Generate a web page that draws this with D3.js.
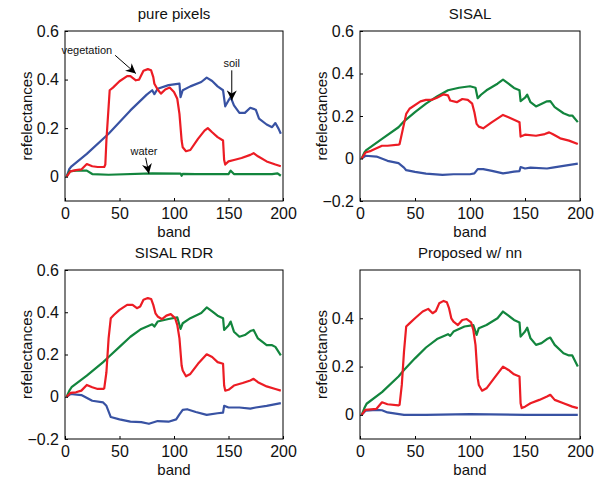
<!DOCTYPE html>
<html><head><meta charset="utf-8">
<script src="https://cdn.jsdelivr.net/npm/d3@7/dist/d3.min.js"></script>
<style>
html,body{margin:0;padding:0;background:#fff;}
svg{display:block;font-family:"Liberation Sans",Arial,Helvetica,sans-serif;}
</style></head>
<body>
<svg id="chart" width="594" height="478"></svg>
<script>
// ---------- data (band, reflectance) ----------
const titles = ["pure pixels", "SISAL", "SISAL RDR", "Proposed w/ nn"];
const xTicks = [0, 50, 100, 150, 200];
const yTicksA = [0, 0.2, 0.4, 0.6];
const yTicksB = [-0.2, 0, 0.2, 0.4, 0.6];
const yTicksC = [0, 0.2, 0.4];

// panel 1: pure pixels
const pureVeg = [[1.5,0],[5,0.022],[10,0.027],[15,0.03],[20,0.052],[25,0.043],[30,0.04],[36,0.04],[37,0.05],[38,0.15],[41,0.356],[44,0.367],[50,0.393],[57,0.414],[60,0.414],[65,0.397],[68,0.40],[72,0.436],[76,0.443],[79,0.438],[81,0.41],[82,0.383],[85,0.359],[88,0.342],[92,0.359],[96,0.367],[100,0.349],[103,0.321],[105,0.259],[107,0.149],[108,0.121],[111,0.105],[115,0.11],[122,0.156],[128,0.19],[131,0.2],[135,0.183],[140,0.163],[145,0.149],[146,0.069],[147,0.05],[150,0.063],[155,0.069],[162,0.077],[170,0.09],[173,0.097],[177,0.084],[185,0.063],[193,0.05],[198,0.043]];
const pureSoil = [[1.5,0],[4,0.032],[6,0.043],[20,0.094],[40,0.177],[60,0.273],[75,0.338],[80,0.356],[82,0.34],[85,0.362],[95,0.377],[105,0.383],[106,0.328],[108,0.356],[115,0.372],[125,0.39],[130,0.408],[135,0.394],[140,0.372],[145,0.356],[147,0.29],[150,0.314],[152,0.328],[155,0.294],[160,0.263],[165,0.263],[170,0.284],[175,0.276],[178,0.239],[185,0.215],[190,0.204],[193,0.221],[196,0.197],[198,0.177]];
const pureWater = [[1.5,0],[4,0.022],[10,0.025],[20,0.025],[25,0.011],[40,0.008],[80,0.014],[106,0.013],[107,0.004],[108,0.012],[120,0.011],[150,0.011],[152,0.025],[155,0.011],[190,0.011],[195,0.014],[198,0.004]];

// panel 2: SISAL
const sisalRed = [[1.5,0],[5,0.028],[10,0.036],[20,0.06],[25,0.06],[35,0.065],[36,0.068],[40,0.163],[42,0.21],[45,0.234],[55,0.269],[60,0.276],[65,0.276],[70,0.286],[76,0.302],[80,0.297],[82,0.273],[88,0.265],[93,0.28],[98,0.276],[102,0.258],[104,0.218],[106,0.163],[108,0.15],[112,0.142],[120,0.171],[130,0.205],[135,0.194],[145,0.171],[146,0.103],[150,0.112],[160,0.107],[168,0.115],[172,0.123],[175,0.115],[182,0.095],[190,0.084],[198,0.068]];
const sisalGreen = [[1.5,0],[4,0.028],[6,0.041],[20,0.092],[35,0.147],[40,0.175],[50,0.218],[60,0.258],[70,0.292],[80,0.321],[90,0.333],[100,0.34],[105,0.333],[107,0.284],[110,0.3],[115,0.321],[125,0.352],[130,0.371],[135,0.352],[140,0.332],[145,0.321],[146,0.27],[150,0.286],[152,0.3],[155,0.265],[160,0.245],[170,0.269],[173,0.27],[177,0.242],[185,0.213],[190,0.202],[193,0.202],[198,0.171]];
const sisalBlue = [[1.5,0],[5,0.013],[15,0.009],[25,-0.011],[35,-0.022],[40,-0.043],[42,-0.055],[50,-0.063],[60,-0.071],[75,-0.077],[85,-0.074],[100,-0.074],[104,-0.07],[107,-0.05],[112,-0.05],[120,-0.058],[130,-0.07],[140,-0.062],[145,-0.059],[146,-0.04],[150,-0.047],[155,-0.043],[170,-0.047],[175,-0.043],[185,-0.035],[198,-0.024]];

// panel 3: SISAL RDR
const rdrRed = [[1.5,0],[5,0.018],[10,0.021],[15,0.029],[20,0.056],[25,0.045],[30,0.037],[35,0.037],[36,0.04],[38,0.116],[40,0.276],[42,0.372],[45,0.388],[50,0.411],[57,0.435],[62,0.435],[66,0.419],[69,0.427],[72,0.459],[76,0.467],[79,0.463],[81,0.435],[83,0.395],[85,0.38],[89,0.367],[93,0.384],[97,0.391],[101,0.372],[103,0.34],[105,0.276],[107,0.148],[108,0.124],[111,0.097],[115,0.108],[122,0.156],[130,0.201],[135,0.188],[140,0.164],[145,0.156],[146,0.053],[147,0.029],[150,0.033],[155,0.053],[163,0.065],[170,0.077],[173,0.085],[177,0.069],[185,0.049],[193,0.037],[198,0.029]];
const rdrGreen = [[1.5,0],[4,0.029],[6,0.045],[20,0.1],[35,0.164],[40,0.188],[50,0.236],[60,0.284],[70,0.321],[80,0.343],[82,0.332],[85,0.356],[95,0.368],[103,0.376],[106,0.321],[108,0.348],[115,0.372],[125,0.396],[130,0.423],[135,0.404],[140,0.384],[145,0.372],[146,0.316],[150,0.337],[152,0.356],[155,0.308],[160,0.284],[165,0.292],[170,0.311],[173,0.316],[177,0.276],[185,0.244],[190,0.244],[193,0.236],[198,0.196]];
const rdrBlue = [[1.5,0],[5,0.013],[15,0.008],[25,-0.019],[35,-0.027],[38,-0.043],[42,-0.096],[50,-0.107],[60,-0.118],[70,-0.12],[77,-0.128],[85,-0.115],[95,-0.118],[102,-0.107],[105,-0.083],[108,-0.062],[112,-0.059],[120,-0.072],[130,-0.086],[140,-0.078],[145,-0.075],[146,-0.043],[150,-0.051],[160,-0.051],[170,-0.056],[175,-0.051],[185,-0.043],[198,-0.03]];

// panel 4: Proposed w/ nn
const nnRed = [[1.5,0],[5,0.021],[15,0.025],[20,0.052],[25,0.044],[35,0.039],[36,0.042],[38,0.124],[40,0.262],[42,0.366],[45,0.379],[50,0.4],[57,0.428],[62,0.439],[66,0.421],[69,0.43],[72,0.462],[76,0.472],[79,0.466],[81,0.441],[83,0.4],[85,0.386],[89,0.372],[93,0.393],[97,0.397],[101,0.383],[103,0.352],[105,0.29],[107,0.152],[108,0.124],[111,0.1],[115,0.11],[122,0.152],[130,0.2],[135,0.186],[140,0.168],[145,0.159],[146,0.048],[147,0.028],[150,0.034],[155,0.048],[163,0.062],[170,0.076],[173,0.083],[177,0.062],[185,0.048],[193,0.034],[198,0.028]];
const nnGreen = [[1.5,0],[4,0.028],[6,0.046],[20,0.094],[35,0.159],[40,0.186],[50,0.234],[60,0.279],[70,0.314],[80,0.334],[82,0.327],[85,0.345],[95,0.366],[103,0.372],[106,0.331],[108,0.359],[115,0.372],[125,0.4],[130,0.428],[135,0.411],[140,0.393],[145,0.383],[146,0.324],[150,0.345],[152,0.361],[155,0.317],[160,0.29],[165,0.297],[170,0.314],[173,0.32],[177,0.29],[185,0.255],[190,0.246],[193,0.246],[198,0.2]];
const nnBlue = [[1.5,0],[5,0.017],[15,0.021],[20,0.019],[25,0.01],[40,0.0],[60,0.0],[100,0.003],[150,0.0],[198,0.0]];

// annotations in panel 1 (band, value): label position and arrow start/end
const annoLabels = ["vegetation", "soil", "water"];
const annoText = [[20, 0.52], [153, 0.467], [72.5, 0.107]];
const annoFrom = [[46, 0.50], [153, 0.438], [74, 0.078]];
const annoTo = [[65, 0.425], [153, 0.314], [77, 0.012]];

// ---------- layout ----------
const RED = "#ec1c24", GREEN = "#12853d", BLUE = "#3852a3";
const panels = [
  {title: titles[0], x0: 65, x1: 283, y0: 31, y1: 201, dom: [-0.1, 0.6], ticks: yTicksA, series: [[pureSoil, BLUE], [pureWater, GREEN], [pureVeg, RED]], anno: true},
  {title: titles[1], x0: 360, x1: 580, y0: 31, y1: 201, dom: [-0.2, 0.6], ticks: yTicksB, series: [[sisalBlue, BLUE], [sisalGreen, GREEN], [sisalRed, RED]]},
  {title: titles[2], x0: 65, x1: 283, y0: 270, y1: 439, dom: [-0.2, 0.6], ticks: yTicksB, series: [[rdrBlue, BLUE], [rdrGreen, GREEN], [rdrRed, RED]]},
  {title: titles[3], x0: 360, x1: 580, y0: 270, y1: 439, dom: [-0.1, 0.6], ticks: yTicksC, series: [[nnBlue, BLUE], [nnGreen, GREEN], [nnRed, RED]]}
];

const svg = d3.select("#chart");
const defs = svg.append("defs");
defs.append("marker").attr("id", "ah").attr("viewBox", "0 0 10 10")
  .attr("refX", 10).attr("refY", 5).attr("markerWidth", 10).attr("markerHeight", 10)
  .attr("markerUnits", "userSpaceOnUse").attr("orient", "auto")
  .append("path").attr("d", "M0,0 L10,5 L0,10 L3,5 Z").attr("fill", "#000");

const fmt = d => d === 0 ? "0" : d3.format(".1f")(d);

panels.forEach((p, i) => {
  const x = d3.scaleLinear().domain([0, 200]).range([p.x0, p.x1]);
  const y = d3.scaleLinear().domain(p.dom).range([p.y1, p.y0]);
  const g = svg.append("g");
  defs.append("clipPath").attr("id", "clip" + i).append("rect")
    .attr("x", p.x0).attr("y", p.y0).attr("width", p.x1 - p.x0).attr("height", p.y1 - p.y0);

  // series
  const line = d3.line().x(d => x(d[0])).y(d => y(d[1]));
  p.series.forEach(([data, col]) => {
    g.append("path").datum(data).attr("d", line)
      .attr("fill", "none").attr("stroke", col).attr("stroke-width", 2.2)
      .attr("stroke-linejoin", "round").attr("clip-path", `url(#clip${i})`);
  });

  // axes (ticks inward)
  const xa = d3.axisBottom(x).tickValues(xTicks).tickSize(-3).tickPadding(5).tickFormat(d3.format("d"));
  const ya = d3.axisLeft(y).tickValues(p.ticks).tickSize(-3).tickPadding(6).tickFormat(fmt);
  const gx = g.append("g").attr("transform", `translate(0,${p.y1})`).call(xa);
  const gy = g.append("g").attr("transform", `translate(${p.x0},0)`).call(ya);
  [gx, gy].forEach(a => {
    a.select(".domain").remove();
    a.selectAll("line").attr("stroke", "#000");
    a.selectAll("text").attr("font-size", 16).attr("fill", "#111")
      .attr("font-family", '"Liberation Sans",Arial,sans-serif');
  });
  gx.selectAll("text").attr("dy", "0.8em");
  // box
  g.append("rect").attr("x", p.x0).attr("y", p.y0).attr("width", p.x1 - p.x0).attr("height", p.y1 - p.y0)
    .attr("fill", "none").attr("stroke", "#000").attr("stroke-width", 1);

  // labels
  const cx = (p.x0 + p.x1) / 2;
  g.append("text").attr("x", cx).attr("y", p.y0 - 12).attr("text-anchor", "middle")
    .attr("font-size", 15).attr("fill", "#111").text(p.title);
  g.append("text").attr("x", cx).attr("y", p.y1 + 36).attr("text-anchor", "middle")
    .attr("font-size", 15).attr("fill", "#111").text("band");
  g.append("text").attr("transform", `translate(${p.x0 - 33},${(p.y0 + p.y1) / 2}) rotate(-90)`)
    .attr("text-anchor", "middle").attr("font-size", 15).attr("fill", "#111").text("refelectances");

  if (p.anno) {
    annoLabels.forEach((lab, k) => {
      g.append("text").attr("x", x(annoText[k][0])).attr("y", y(annoText[k][1])).attr("dy", "0.35em")
        .attr("text-anchor", "middle").attr("font-size", 11).attr("fill", "#111").text(lab);
      g.append("line").attr("x1", x(annoFrom[k][0])).attr("y1", y(annoFrom[k][1]))
        .attr("x2", x(annoTo[k][0])).attr("y2", y(annoTo[k][1]))
        .attr("stroke", "#000").attr("stroke-width", 1).attr("marker-end", "url(#ah)");
    });
  }
});
</script>
</body></html>
